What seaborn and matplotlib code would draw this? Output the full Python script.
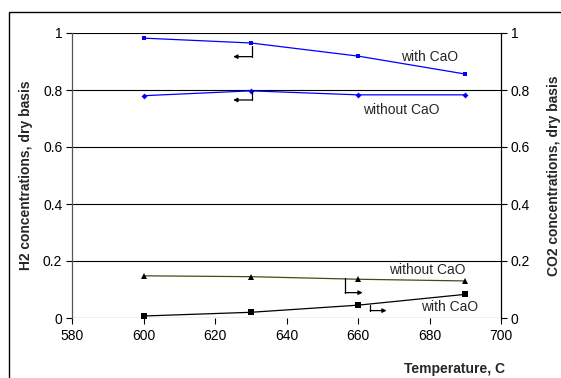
import matplotlib
matplotlib.use("Agg")
import matplotlib.pyplot as plt
import seaborn as sns
import pandas as pd
from matplotlib.patches import Rectangle

temps = [600, 630, 660, 690]
h2_with_cao = [0.982, 0.965, 0.919, 0.856]
h2_without_cao = [0.780, 0.797, 0.783, 0.783]
co2_without_cao = [0.148, 0.145, 0.136, 0.130]
co2_with_cao = [0.007, 0.020, 0.045, 0.083]
y_ticks = [0, 0.2, 0.4, 0.6, 0.8, 1]
y_ticklabels = ["0", "0.2", "0.4", "0.6", "0.8", "1"]
x_ticks = [580, 600, 620, 640, 660, 680, 700]

sns.set_theme(style="white")
plt.rcParams['font.family'] = ['Liberation Sans', 'DejaVu Sans']

FS = 10
fig = plt.figure(figsize=(5.61, 3.78), dpi=100)
fig.patches.append(Rectangle((9/561, -0.5), 2.0, 1 - 12/378 + 0.5, transform=fig.transFigure,
                             fill=False, edgecolor='black', linewidth=1.0))
ax = fig.add_axes([72/561, 1 - 318/378, 429/561, 285/378])
ax2 = ax.twinx()

df_h2 = pd.DataFrame({"T": temps, "with": h2_with_cao, "without": h2_without_cao})
df_co2 = pd.DataFrame({"T": temps, "with": co2_with_cao, "without": co2_without_cao})

for y in y_ticks:
    ax.axhline(y, color='black', lw=0.8, zorder=0)

sns.lineplot(data=df_h2, x="T", y="with", ax=ax, color='blue', lw=0.9,
             marker='s', markersize=3.5, markeredgewidth=0, markerfacecolor='blue')
sns.lineplot(data=df_h2, x="T", y="without", ax=ax, color='blue', lw=0.9,
             marker='D', markersize=3, markeredgewidth=0, markerfacecolor='blue')
sns.lineplot(data=df_co2, x="T", y="without", ax=ax2, color='#4a4a10', lw=0.9,
             marker='^', markersize=4.5, markeredgewidth=0, markerfacecolor='black')
sns.lineplot(data=df_co2, x="T", y="with", ax=ax2, color='black', lw=0.9,
             marker='s', markersize=5, markeredgewidth=0, markerfacecolor='black')

for a in (ax, ax2):
    a.set_xlim(580, 700)
    a.set_ylim(0, 1)
    a.set_yticks(y_ticks)
    a.set_yticklabels(y_ticklabels)
    a.tick_params(axis='both', labelsize=FS, colors='black', length=4, width=0.8, direction='out')
    for s in a.spines.values():
        s.set_visible(False)

ax.set_xticks(x_ticks)
ax.tick_params(axis='x', bottom=True, length=4, pad=4)
ax.tick_params(axis='y', left=True, pad=3)
ax2.tick_params(axis='y', right=True, pad=3)
ax.spines['left'].set_visible(True)
ax.spines['left'].set_color('#555555')
ax.spines['left'].set_linewidth(0.9)
ax2.spines['right'].set_visible(True)
ax2.spines['right'].set_color('black')
ax2.spines['right'].set_linewidth(0.9)

ax.set_xlabel("")
ax.set_ylabel("H2 concentrations, dry basis", fontsize=FS, fontweight='bold', labelpad=7)
ax2.set_ylabel("CO2 concentrations, dry basis", fontsize=FS, fontweight='bold', labelpad=12)
fig.text(454.7/561, 1 - 369/378, "Temperature, C", fontsize=FS, fontweight='bold',
         ha='center', va='center')

# annotations
ax.text(680, 0.917, "with CaO", fontsize=FS, ha='center', va='center')
ax.text(672, 0.73, "without CaO", fontsize=FS, ha='center', va='center')
ax2.text(679.4, 0.168, "without CaO", fontsize=FS, ha='center', va='center')
ax2.text(685.5, 0.0375, "with CaO", fontsize=FS, ha='center', va='center')

akw = dict(arrowstyle='-|>', color='black', lw=0.9, mutation_scale=6, shrinkA=0, shrinkB=0)
# left arrows (H2)
for top, bot in [(0.954, 0.917), (0.797, 0.765)]:
    ax.plot([630.4, 630.4], [top, bot], color='black', lw=0.9)
    ax.annotate("", xy=(625.1, bot), xytext=(630.4, bot), arrowprops=akw)
# right arrows (CO2)
for x0, x1, top, bot in [(656.4, 661.3, 0.139, 0.089), (663.4, 668.0, 0.046, 0.026)]:
    ax2.plot([x0, x0], [top, bot], color='black', lw=0.9)
    ax2.annotate("", xy=(x1, bot), xytext=(x0, bot), arrowprops=akw)

fig.savefig("out.png", dpi=100)
